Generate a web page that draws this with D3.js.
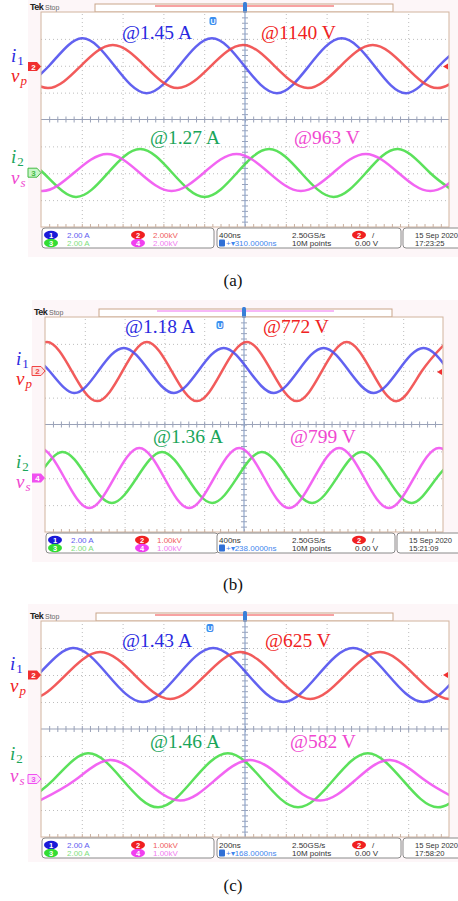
<!DOCTYPE html>
<html>
<head>
<meta charset="utf-8">
<script src="https://cdn.jsdelivr.net/npm/d3@7/dist/d3.min.js"></script>
<style>
  body { margin: 0; background: #fff; }
  svg { display: block; }
</style>
</head>
<body>
<svg id="fig" width="458" height="901"></svg>
<script>
// Trace samples: [time in divisions from left edge, level in divisions from screen centre]
const aI1 = [[-0.59,0.98],[0.20,2.00],[1.00,3.02],[1.80,2.00],[2.59,0.98],[3.39,2.00],[4.19,3.02],[4.98,2.00],[5.78,0.98],[6.57,2.00],[7.37,3.02],[8.17,2.00],[8.96,0.98],[9.76,2.00],[10.56,3.02]];
const aVp = [[-0.63,1.97],[0.17,1.17],[0.96,1.97],[1.76,2.77],[2.56,1.97],[3.35,1.17],[4.15,1.97],[4.95,2.77],[5.74,1.97],[6.54,1.17],[7.33,1.97],[8.13,2.77],[8.93,1.97],[9.72,1.17],[10.52,1.97]];
const aI2 = [[-0.73,-1.10],[0.06,-1.99],[0.85,-2.88],[1.64,-1.99],[2.43,-1.10],[3.22,-1.99],[4.01,-2.88],[4.80,-1.99],[5.59,-1.10],[6.38,-1.99],[7.17,-2.88],[7.96,-1.99],[8.75,-1.10],[9.54,-1.99],[10.33,-2.88]];
const aVs = [[-0.76,-1.97],[0.03,-2.66],[0.82,-1.97],[1.62,-1.28],[2.41,-1.97],[3.20,-2.66],[4.00,-1.97],[4.79,-1.28],[5.58,-1.97],[6.37,-2.66],[7.17,-1.97],[7.96,-1.28],[8.75,-1.97],[9.54,-2.66],[10.33,-1.97]];

const bI1 = [[-0.53,2.85],[0.10,2.01],[0.73,1.17],[1.35,2.01],[1.98,2.85],[2.61,2.01],[3.24,1.17],[3.86,2.01],[4.49,2.85],[5.12,2.01],[5.75,1.17],[6.37,2.01],[7.00,2.85],[7.63,2.01],[8.26,1.17],[8.88,2.01],[9.51,2.85],[10.14,2.01]];
const bVp = [[-0.58,1.97],[0.05,3.07],[0.68,1.97],[1.31,0.87],[1.94,1.97],[2.56,3.07],[3.19,1.97],[3.82,0.87],[4.44,1.97],[5.07,3.07],[5.70,1.97],[6.33,0.87],[6.95,1.97],[7.58,3.07],[8.21,1.97],[8.84,0.87],[9.46,1.97],[10.09,3.07]];
const bI2 = [[-0.83,-2.92],[-0.20,-1.97],[0.43,-1.02],[1.06,-1.97],[1.68,-2.92],[2.31,-1.97],[2.94,-1.02],[3.57,-1.97],[4.20,-2.92],[4.83,-1.97],[5.45,-1.02],[6.08,-1.97],[6.71,-2.92],[7.34,-1.97],[7.96,-1.02],[8.59,-1.97],[9.22,-2.92],[9.85,-1.97],[10.47,-1.02]];
const bVs = [[-0.76,-1.99],[-0.14,-0.87],[0.49,-1.99],[1.11,-3.11],[1.74,-1.99],[2.37,-0.87],[3.00,-1.99],[3.62,-3.11],[4.25,-1.99],[4.88,-0.87],[5.51,-1.99],[6.13,-3.11],[6.76,-1.99],[7.39,-0.87],[8.02,-1.99],[8.64,-3.11],[9.27,-1.99],[9.90,-0.87],[10.53,-1.99]];

const cI1 = [[-0.94,1.00],[-0.08,2.00],[0.78,3.00],[1.64,2.00],[2.50,1.00],[3.36,2.00],[4.22,3.00],[5.08,2.00],[5.94,1.00],[6.79,2.00],[7.65,3.00],[8.51,2.00],[9.37,1.00],[10.23,2.00]];
const cVp = [[-1.13,1.98],[-0.27,1.11],[0.59,1.98],[1.45,2.85],[2.31,1.98],[3.17,1.11],[4.02,1.98],[4.88,2.85],[5.74,1.98],[6.60,1.11],[7.45,1.98],[8.31,2.85],[9.17,1.98],[10.03,1.11],[10.89,1.98]];
const cI2 = [[-0.57,-2.90],[0.29,-1.90],[1.15,-0.90],[2.01,-1.90],[2.87,-2.90],[3.72,-1.90],[4.58,-0.90],[5.44,-1.90],[6.30,-2.90],[7.16,-1.90],[8.01,-0.90],[8.87,-1.90],[9.73,-2.90],[10.59,-1.90]];
const cVs = [[-0.03,-2.65],[0.83,-1.90],[1.69,-1.15],[2.55,-1.90],[3.41,-2.65],[4.26,-1.90],[5.12,-1.15],[5.98,-1.90],[6.84,-2.65],[7.70,-1.90],[8.55,-1.15],[9.41,-1.90],[10.27,-2.65]];

// On-screen annotations
const aNotes = ['@1.45 A', '@1140 V', '@1.27 A', '@963 V'];
const bNotes = ['@1.18 A', '@772 V', '@1.36 A', '@799 V'];
const cNotes = ['@1.43 A', '@625 V', '@1.46 A', '@582 V'];

// Channel scales (ch1, ch2, ch3, ch4)
const aScales = ['2.00 A', '2.00kV', '2.00 A', '2.00kV'];
const bScales = ['2.00 A', '1.00kV', '2.00 A', '1.00kV'];
const cScales = ['2.00 A', '1.00kV', '2.00 A', '1.00kV'];

// Horizontal / acquisition readouts: time/div, sample rate, delay, record, trigger level, date, time
const aReadout = ['400ns', '2.50GS/s', '310.0000ns', '10M points', '0.00 V', '15 Sep 2020', '17:23:25'];
const bReadout = ['400ns', '2.50GS/s', '238.0000ns', '10M points', '0.00 V', '15 Sep 2020', '15:21:09'];
const cReadout = ['200ns', '2.50GS/s', '168.0000ns', '10M points', '0.00 V', '15 Sep 2020', '17:58:20'];

const captions = ['(a)', '(b)', '(c)'];

const traceColor = { i1: '#4c4cee', vp: '#f04444', i2: '#44dd44', vs: '#f050f0' };
const textColor = { i1: '#2a2ae0', vp: '#f02222', i2: '#1aa55a', vs: '#f048d0' };

const svg = d3.select('#fig');
const serif = '"Liberation Serif", "Times New Roman", serif';
const sans = '"Liberation Sans", Arial, sans-serif';

const panels = [
  { key: 'a', x0: 41, x1: 449, y0: 12, y1: 227, bg: [28, 0, 430, 257], bar: [95, 393], barLine: [155, 334, '#f04444'],
    traces: [[aI1, 'i1'], [aVp, 'vp'], [aI2, 'i2'], [aVs, 'vs']], notes: aNotes, scales: aScales, readout: aReadout,
    noteX: [122, 261, 150, 294], noteY: [39, 144], lblY: [62, 82, 163, 184], lblX: 11,
    upMark: { n: '2', y: 66.5, fill: '#f03030', text: '#fff' }, loMark: { n: '3', y: 172.7, fill: '#c8f5c8', stroke: '#44bb44', text: '#44bb44' },
    trig: 66.5, uIcon: [213, 21], cap: [233, 286] },
  { key: 'b', x0: 45, x1: 443, y0: 317, y1: 532, bg: [32, 300, 426, 262], bar: [99, 392], barLine: [157, 334, '#f070f0'],
    traces: [[bVp, 'vp'], [bI1, 'i1'], [bI2, 'i2'], [bVs, 'vs']], notes: bNotes, scales: bScales, readout: bReadout,
    noteX: [125, 263, 153, 290], noteY: [333, 443], lblY: [365, 385, 468, 488], lblX: 16,
    upMark: { n: '2', y: 371, fill: '#fde0e0', stroke: '#f04444', text: '#f04444' }, loMark: { n: '4', y: 478, fill: '#f050f0', text: '#fff' },
    trig: 372, uIcon: [220, 325], cap: [233, 590] },
  { key: 'c', x0: 41, x1: 449, y0: 621, y1: 837, bg: [28, 604, 430, 258], bar: [96, 393], barLine: [155, 334, '#f04444'],
    traces: [[cI1, 'i1'], [cVp, 'vp'], [cI2, 'i2'], [cVs, 'vs']], notes: cNotes, scales: cScales, readout: cReadout,
    noteX: [122, 265, 150, 290], noteY: [647, 748], lblY: [670, 692, 760, 782], lblX: 10,
    upMark: { n: '2', y: 675, fill: '#f03030', text: '#fff' }, loMark: { n: '3', y: 779, fill: '#fbe0fb', stroke: '#f050f0', text: '#f050f0' },
    trig: 675, uIcon: [210, 628], cap: [233, 891] }
];

function chanMarker(g, px, py, m) {
  g.append('path')
    .attr('d', `M${px - 12},${py - 4.5}L${px - 3},${py - 4.5}L${px + 1},${py}L${px - 3},${py + 4.5}L${px - 12},${py + 4.5}Z`)
    .attr('fill', m.fill).attr('stroke', m.stroke || 'none').attr('stroke-width', 1);
  g.append('text').attr('x', px - 6.5).attr('y', py + 3)
    .attr('text-anchor', 'middle').attr('font-family', sans).attr('font-weight', 'bold')
    .attr('font-size', 8).attr('fill', m.text).text(m.n);
}

function badge(g, cx, cy, color, n) {
  g.append('ellipse').attr('cx', cx).attr('cy', cy).attr('rx', 7).attr('ry', 4.2).attr('fill', color);
  g.append('text').attr('x', cx).attr('y', cy + 2.8).attr('text-anchor', 'middle')
    .attr('font-family', sans).attr('font-size', 7.5).attr('font-weight', 'bold').attr('fill', '#fff').text(n);
}

function drawPanel(p, idx) {
  const g = svg.append('g');
  g.append('rect').attr('x', p.bg[0]).attr('y', p.bg[1]).attr('width', p.bg[2]).attr('height', p.bg[3]).attr('fill', '#fdf6f8');

  const x = d3.scaleLinear().domain([0, 10]).range([p.x0, p.x1]);
  const y = d3.scaleLinear().domain([-4, 4]).range([p.y1, p.y0]);
  const w = p.x1 - p.x0, h = p.y1 - p.y0;

  // header: Tek Stop + record bar
  g.append('text').attr('x', p.x0 - 11).attr('y', p.y0 - 2).attr('font-family', sans).attr('font-weight', 'bold')
    .attr('font-size', 9).attr('fill', '#222').attr('letter-spacing', -0.6).text('Tek');
  g.append('text').attr('x', p.x0 + 4).attr('y', p.y0 - 2).attr('font-family', sans)
    .attr('font-size', 7).attr('fill', '#666').text('Stop');
  g.append('rect').attr('x', p.bar[0]).attr('y', p.y0 - 8).attr('width', p.bar[1] - p.bar[0]).attr('height', 8)
    .attr('fill', '#fff').attr('stroke', '#c9a58a').attr('stroke-width', 1);
  g.append('line').attr('x1', p.barLine[0]).attr('x2', p.barLine[1]).attr('y1', p.y0 - 6).attr('y2', p.y0 - 6)
    .attr('stroke', p.barLine[2]).attr('stroke-width', 1);

  // graticule
  g.append('rect').attr('x', p.x0).attr('y', p.y0).attr('width', w).attr('height', h).attr('fill', '#fff');
  g.append('g').attr('transform', `translate(0,${p.y1})`)
    .call(d3.axisBottom(x).tickValues(d3.range(1, 10).filter(v => v !== 5)).tickSize(-h).tickFormat(''))
    .call(s => s.select('.domain').remove())
    .call(s => s.selectAll('line').attr('stroke', '#bdbdbd').attr('stroke-dasharray', '1,3'));
  g.append('g').attr('transform', `translate(${p.x0},0)`)
    .call(d3.axisLeft(y).tickValues([-3, -2, -1, 1, 2, 3]).tickSize(-w).tickFormat(''))
    .call(s => s.select('.domain').remove())
    .call(s => s.selectAll('line').attr('stroke', '#bdbdbd').attr('stroke-dasharray', '1,3'));

  // centre cross with minor ticks
  const minorX = d3.range(0, 50).map(i => i / 5).filter(v => v > 0);
  const minorY = d3.range(-19, 20).map(i => i / 5);
  g.append('g').attr('transform', `translate(0,${y(0) - 3})`)
    .call(d3.axisBottom(x).tickValues(minorX).tickSize(6).tickFormat(''))
    .call(s => s.select('.domain').remove())
    .call(s => s.selectAll('line').attr('stroke', '#9aa2b8'));
  g.append('g').attr('transform', `translate(${x(5) - 3},0)`)
    .call(d3.axisRight(y).tickValues(minorY).tickSize(6).tickFormat(''))
    .call(s => s.select('.domain').remove())
    .call(s => s.selectAll('line').attr('stroke', '#9aa2b8'));
  g.append('g').attr('transform', `translate(0,${p.y1})`)
    .call(d3.axisTop(x).tickValues(minorX).tickSize(3).tickFormat(''))
    .call(s => s.select('.domain').remove())
    .call(s => s.selectAll('line').attr('stroke', '#c8b0a0'));
  g.append('line').attr('x1', p.x0).attr('x2', p.x1).attr('y1', y(0)).attr('y2', y(0)).attr('stroke', '#9aa2b8').attr('stroke-width', 1.2);
  g.append('line').attr('x1', x(5)).attr('x2', x(5)).attr('y1', p.y0).attr('y2', p.y1).attr('stroke', '#8fa6cc').attr('stroke-width', 1.2);

  // trigger position marker at top centre
  g.append('rect').attr('x', x(5) - 2).attr('y', p.y0 - 10).attr('width', 4).attr('height', 11).attr('rx', 1.5).attr('fill', '#3a7fd8');
  // expansion-point icon
  g.append('rect').attr('x', p.uIcon[0] - 3.5).attr('y', p.uIcon[1] - 4).attr('width', 7).attr('height', 8).attr('rx', 2).attr('fill', '#3a8ef0');
  g.append('text').attr('x', p.uIcon[0]).attr('y', p.uIcon[1] + 3).attr('text-anchor', 'middle').attr('font-family', sans)
    .attr('font-size', 7).attr('font-weight', 'bold').attr('fill', '#fff').text('U');

  // traces
  const clipId = 'clip-' + p.key;
  g.append('clipPath').attr('id', clipId).append('rect').attr('x', p.x0).attr('y', p.y0).attr('width', w).attr('height', h);
  const line = d3.line().x(d => x(d[0])).y(d => y(d[1])).curve(d3.curveNatural);
  const tg = g.append('g').attr('clip-path', `url(#${clipId})`);
  p.traces.forEach(([data, ch]) => {
    tg.append('path').datum(data).attr('d', line).attr('fill', 'none')
      .attr('stroke', traceColor[ch]).attr('stroke-width', 2.5).attr('stroke-opacity', 0.88)
      .attr('stroke-linejoin', 'round');
  });

  g.append('rect').attr('x', p.x0).attr('y', p.y0).attr('width', w).attr('height', h)
    .attr('fill', 'none').attr('stroke', '#d2b49e').attr('stroke-width', 1);

  // channel markers + trigger level
  chanMarker(g, p.x0 - 1, p.upMark.y, p.upMark);
  chanMarker(g, p.x0 - 1, p.loMark.y, p.loMark);
  g.append('path').attr('d', `M${p.x1 - 6},${p.trig}L${p.x1 - 1},${p.trig - 3}L${p.x1 - 1},${p.trig + 3}Z`).attr('fill', '#f03030');

  // measurement annotations
  const noteCols = ['i1', 'vp', 'i2', 'vs'];
  p.notes.forEach((t, i) => {
    g.append('text').attr('x', p.noteX[i]).attr('y', p.noteY[i < 2 ? 0 : 1])
      .attr('font-family', serif).attr('font-size', 19.5).attr('fill', textColor[noteCols[i]]).text(t);
  });

  // signal names
  const names = [['i', '1', 'i1', false], ['v', 'p', 'vp', true], ['i', '2', 'i2', false], ['v', 's', 'vs', true]];
  names.forEach(([base, sub, ch, subItalic], i) => {
    const t = g.append('text').attr('x', p.lblX).attr('y', p.lblY[i]).attr('font-family', serif)
      .attr('fill', textColor[ch]);
    t.append('tspan').attr('font-style', 'italic').attr('font-size', 19).text(base);
    t.append('tspan').attr('font-style', subItalic ? 'italic' : 'normal').attr('font-size', 13).attr('dx', 1).attr('dy', 3).text(sub);
  });

  // readout boxes
  const by = p.y1 + 1, bh = 20;
  const r1 = p.y1 + 11, r2 = p.y1 + 19;
  const box = (bx, bw) => g.append('rect').attr('x', bx).attr('y', by).attr('width', bw).attr('height', bh).attr('rx', 3)
    .attr('fill', '#fff').attr('stroke', '#8a8a8a').attr('stroke-width', 1);
  box(p.x0 + 1, 172);
  box(217, p.x1 - 48 - 217);
  box(p.x1 - 46, 80);
  const txt = (tx, ty, s, col, fs) => g.append('text').attr('x', tx).attr('y', ty).attr('font-family', sans)
    .attr('font-size', fs || 8).attr('fill', col).text(s);

  const bx = p.x0 + 1;
  badge(g, bx + 9, r1 - 3, '#1a1ad8', '1');
  badge(g, bx + 9, r2 - 3, '#33dd33', '3');
  badge(g, bx + 96, r1 - 3, '#f02020', '2');
  badge(g, bx + 96, r2 - 3, '#f040f0', '4');
  txt(bx + 25, r1, p.scales[0], '#6060f0');
  txt(bx + 25, r2, p.scales[2], '#80e080');
  txt(bx + 111, r1, p.scales[1], '#f06060');
  txt(bx + 111, r2, p.scales[3], '#f080f0');

  const rd = p.readout;
  txt(219, r1, rd[0], '#333');
  g.append('rect').attr('x', 219).attr('y', r2 - 6.5).attr('width', 6).attr('height', 7).attr('rx', 1).attr('fill', '#2f6fd6');
  txt(226, r2, '+\u25BE' + rd[2], '#3f86ee');
  txt(292, r1, rd[1], '#333');
  txt(292, r2, rd[3], '#333');
  badge(g, 359, r1 - 3, '#f02020', '2');
  txt(372, r1, '/', '#333');
  txt(355, r2, rd[4], '#333');
  txt(p.x1 - 34, r1, rd[5], '#333', 7.6);
  txt(p.x1 - 34, r2, rd[6], '#333', 7.6);

  // caption
  svg.append('text').attr('x', p.cap[0]).attr('y', p.cap[1]).attr('text-anchor', 'middle')
    .attr('font-family', serif).attr('font-size', 17).attr('fill', '#111').text(captions[idx]);
}

panels.forEach(drawPanel);
</script>
</body>
</html>
